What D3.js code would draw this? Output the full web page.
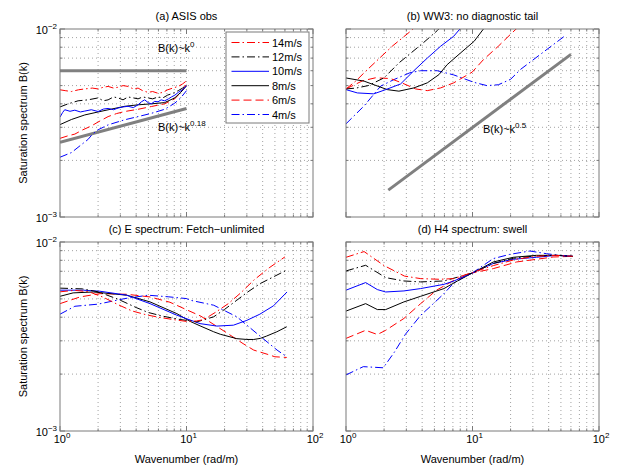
<!DOCTYPE html>
<html><head><meta charset="utf-8">
<script src="https://cdn.jsdelivr.net/npm/d3@7"></script>
<style>body{margin:0;background:#fff} text{font-family:"Liberation Sans",Arial,Helvetica,sans-serif;fill:#000}</style>
</head><body><svg id="c" width="617" height="468"></svg>
<script>
// values of B(k) are given in units of 1e-3
const speeds = ["14m/s","12m/s","10m/s","8m/s","6m/s","4m/s"];
const colors = ["#ff0000","#000000","#0000ff","#000000","#ff0000","#0000ff"];
const dashes = ["8,3,1.5,3","8,3,1.5,3",null,null,"8,4","8,3,1.5,3"];

// (a) ASIS obs
const a14 = [[1,4.75],[1.1,4.7],[1.23,4.65],[1.4,4.75],[1.57,4.8],[1.8,4.85],[2.0,4.8],[2.2,4.9],[2.4,4.95],[2.65,4.85],[2.88,4.9],[3.15,5.0],[3.45,4.95],[3.8,4.8],[4.14,4.85],[4.5,4.7],[4.97,4.6],[5.4,4.65],[5.96,4.55],[6.5,4.6],[7.1,4.75],[7.8,4.85],[8.6,4.95],[9.3,5.1],[10,5.3]];
const a12 = [[1,3.85],[1.16,4.0],[1.39,4.15],[1.67,4.2],[2.0,4.3],[2.2,4.15],[2.4,4.2],[2.65,4.35],[2.88,4.3],[3.15,4.2],[3.45,4.35],[3.8,4.3],[4.14,4.25],[4.5,4.35],[4.97,4.3],[5.4,4.25],[5.96,4.35],[6.5,4.3],[7.1,4.45],[7.8,4.55],[8.6,4.7],[9.3,4.85],[10,5.05]];
const a10 = [[1,3.4],[1.05,3.6],[1.09,3.72],[1.2,3.65],[1.31,3.7],[1.45,3.62],[1.57,3.66],[1.77,3.72],[2.0,3.64],[2.2,3.75],[2.4,3.78],[2.65,3.72],[2.88,3.8],[3.15,3.85],[3.45,3.88],[3.8,3.82],[4.14,3.95],[4.4,4.1],[4.67,4.2],[5.0,4.05],[5.28,4.0],[5.6,4.12],[5.96,4.1],[6.3,4.2],[6.72,4.15],[7.2,4.25],[7.6,4.35],[8.1,4.45],[8.6,4.6],[9.3,4.75],[10,5.0]];
const a8 = [[1,3.1],[1.23,3.3],[1.57,3.49],[2.0,3.62],[2.55,3.75],[3.25,3.88],[4.14,3.95],[5.28,4.0],[6.72,4.06],[8.07,4.3],[9.0,4.6],[10,4.98]];
const a6 = [[1,2.62],[1.15,2.7],[1.31,2.76],[1.5,2.9],[1.77,3.05],[2.0,3.2],[2.4,3.42],[2.8,3.55],[3.25,3.64],[4.14,3.74],[5.28,3.87],[6.72,4.0],[8.07,4.25],[9.0,4.6],[10,5.1]];
const a4 = [[1,2.08],[1.23,2.2],[1.47,2.42],[1.66,2.58],[1.8,2.75],[2.0,2.91],[2.4,3.09],[3.25,3.29],[4.14,3.42],[5.28,3.56],[6.72,3.74],[8.07,4.03],[9.0,4.3],[10,4.7]];
const refA0 = [[1,6.0],[10,6.0]];
const refA18 = [[1,2.5],[10,3.78]];

// (b) WW3: no diagnostic tail
const b14 = [[1,4.8],[1.2,5.3],[1.43,5.96],[2.32,8.1],[3.34,9.9],[3.8,11]];
const b12 = [[1,4.8],[1.2,4.85],[1.5,5.0],[2.0,5.5],[2.62,6.6],[3.3,7.5],[4.13,8.5],[5.26,9.8],[6,10.8]];
const b10 = [[1,4.76],[1.23,4.57],[1.66,4.52],[2.06,4.76],[2.7,5.1],[3.44,6.0],[4.39,7.0],[5.6,8.1],[7.1,9.15],[8.05,10.1],[9,11]];
const b8 = [[1,5.49],[1.39,5.28],[2.12,4.76],[2.62,4.67],[3.44,4.86],[4.39,5.17],[5.43,5.72],[6.3,6.46],[8.05,7.46],[10.3,8.6],[12.2,10.0],[13.5,10.8]];
const b6 = [[1,4.8],[1.35,5.3],[1.71,5.5],[2.25,5.45],[2.78,5.16],[3.55,4.8],[4.39,4.7],[5.6,4.86],[7.1,5.17],[9.95,5.9],[12.2,6.87],[16,8.1],[20.4,9.5],[22.5,10.1],[24,10.8]];
const b4 = [[1,3.13],[1.39,3.9],[1.88,4.97],[2.39,5.38],[3.2,5.85],[3.89,6.0],[5.26,6.0],[7.1,5.7],[10.3,5.2],[13,5.0],[16,5.05],[20,5.4],[24,6.1],[36,7.5],[55,9.3]];
const refB = [[2.16,1.39],[60,7.33]];

// (c) E spectrum: Fetch-unlimited
const c14 = [[1,5.45],[1.3,5.55],[1.7,5.45],[2.2,5.1],[2.9,4.65],[3.7,4.32],[4.8,4.12],[6,4.0],[8,3.88],[10,3.8],[12,3.82],[13.6,3.88],[17,4.25],[21.5,4.73],[27,5.4],[34,6.28],[45,7.3],[60,8.34]];
const c12 = [[1,5.7],[1.5,5.65],[2,5.45],[2.88,4.98],[4,4.5],[4.97,4.24],[6.5,4.05],[8.9,3.89],[12.1,3.78],[16.4,4.02],[20,4.4],[25,4.92],[30,5.4],[38.3,6.03],[50,6.6],[62,7.1]];
const c10 = [[1,5.56],[1.53,5.56],[2.07,5.49],[3.37,5.23],[5.15,4.72],[8.38,4.1],[12.8,3.7],[17.4,3.59],[23.5,3.63],[30,3.85],[38,4.15],[48.8,4.6],[62.3,5.44]];
const c8 = [[1,5.16],[1.27,5.38],[1.84,5.44],[3.37,5.23],[5.15,4.82],[8.38,4.18],[10.7,3.8],[12.8,3.6],[16.4,3.35],[18.5,3.25],[25,3.08],[30,3.05],[34,3.05],[38.3,3.09],[43,3.18],[51.8,3.35],[62,3.56]];
const c6 = [[1,4.72],[1.44,5.12],[2.07,5.33],[3.37,5.29],[5.15,5.12],[7.4,4.8],[8.9,4.54],[13,4.05],[20.9,3.3],[28,2.9],[34,2.68],[43.3,2.55],[50,2.47],[62,2.45]];
const c4 = [[1,4.15],[1.31,4.57],[2.0,4.69],[3.25,5.02],[4.97,5.23],[7.16,5.13],[10,5.02],[10.7,4.92],[16.4,4.63],[25,4.02],[36,3.28],[52,2.68],[62,2.47]];

// (d) H4 spectrum: swell
const d14 = [[1,8.3],[1.39,8.9],[2,7.5],[2.9,6.6],[3.9,6.4],[5.5,6.35],[7.1,6.4],[10,6.9],[14.6,7.5],[22,8.1],[32,8.4],[45,8.5],[62,8.4]];
const d12 = [[1,7.03],[1.43,7.53],[2.06,6.48],[2.87,6.22],[3.89,6.15],[5.95,6.22],[10,6.86],[14.6,7.7],[21,8.2],[32,8.45],[46,8.5],[62,8.4]];
const d10 = [[1,5.56],[1.43,6.1],[1.77,5.6],[2.06,5.44],[2.87,5.51],[3.89,5.67],[5.95,5.97],[7.13,6.22],[10,6.86],[14.6,7.7],[21,8.1],[32,8.3],[46,8.5],[62,8.4]];
const d8 = [[1,4.31],[1.43,4.72],[1.77,4.39],[2.06,4.39],[2.87,4.82],[3.89,5.16],[5.95,5.67],[7.6,6.22],[10,6.86],[14.6,7.84],[21,8.3],[32,8.5],[46,8.5],[62,8.4]];
const d6 = [[1,3.09],[1.43,3.41],[1.77,3.24],[2.06,3.41],[2.87,3.94],[3.89,4.72],[5.2,5.56],[7.13,6.27],[10,6.86],[14.6,7.23],[22.3,7.84],[32,8.1],[43.4,8.33],[62,8.4]];
const d4 = [[1,1.98],[1.37,2.19],[1.97,2.16],[2.4,2.6],[2.95,3.25],[3.9,4.1],[4.61,4.54],[5.9,5.3],[7.04,6.03],[8.5,6.5],[10.1,6.9],[14.6,8.17],[19.7,8.6],[28.4,8.96],[38.5,8.67],[49,8.5],[62,8.4]];

const xMajor = [1,10,100];
const xMajorExp = ["0","1","2"];
const yMajor = [1e-3,1e-2];
const yMajorExp = ["\u22123","\u22122"];
const minorMult = [2,3,4,5,6,7,8,9];

const panels = [
  {x0:60,x1:313,y0:29,y1:217,title:"(a) ASIS obs",series:[a14,a12,a10,a8,a6,a4],refs:[refA0,refA18],
   notes:[[5.95,7.5,"0"],[5.95,2.87,"0.18"]],ylab:true,xlab:false,legend:true},
  {x0:346,x1:599,y0:29,y1:217,title:"(b) WW3: no diagnostic tail",series:[b14,b12,b10,b8,b6,b4],refs:[refB],
   notes:[[12.1,2.8,"0.5"]],ylab:false,xlab:false},
  {x0:60,x1:313,y0:242,y1:431,title:"(c) E spectrum: Fetch\u2212unlimited",series:[c14,c12,c10,c8,c6,c4],refs:[],
   notes:[],ylab:true,xlab:true},
  {x0:346,x1:599,y0:242,y1:431,title:"(d) H4 spectrum: swell",series:[d14,d12,d10,d8,d6,d4],refs:[],
   notes:[],ylab:false,xlab:true}
];

const svg = d3.select("#c");
const frameCol = "#7a7a7a";

panels.forEach((p,pi)=>{
  const x = d3.scaleLog().domain([1,100]).range([p.x0,p.x1]);
  const y = d3.scaleLog().domain([1e-3,1e-2]).range([p.y1,p.y0]);
  const g = svg.append("g");
  const cid = "clip"+pi;
  svg.append("clipPath").attr("id",cid).append("rect")
    .attr("x",p.x0).attr("y",p.y0).attr("width",p.x1-p.x0).attr("height",p.y1-p.y0);

  // grid
  const xg = [];
  [1,10].forEach(dec=>minorMult.forEach(m=>xg.push(dec*m)));
  xg.push(10);
  const yg = minorMult.map(m=>m*1e-3);
  g.selectAll(".gx").data(xg).enter().append("line")
    .attr("x1",d=>x(d)).attr("x2",d=>x(d)).attr("y1",p.y0).attr("y2",p.y1)
    .attr("stroke","#8a8a8a").attr("stroke-width",0.8).attr("stroke-dasharray","1,3");
  g.selectAll(".gy").data(yg).enter().append("line")
    .attr("y1",d=>y(d)).attr("y2",d=>y(d)).attr("x1",p.x0).attr("x2",p.x1)
    .attr("stroke","#8a8a8a").attr("stroke-width",0.8).attr("stroke-dasharray","1,3");

  // ticks (inward, all sides)
  const xt = [];
  [1,10].forEach(dec=>[1,...minorMult].forEach(m=>xt.push({v:dec*m,maj:m===1})));
  xt.push({v:100,maj:true});
  const yt = [{v:1e-3,maj:true},...yg.map(v=>({v,maj:false})),{v:1e-2,maj:true}];
  xt.forEach(t=>{
    const L = t.maj?5:2.5;
    g.append("line").attr("x1",x(t.v)).attr("x2",x(t.v)).attr("y1",p.y1).attr("y2",p.y1-L).attr("stroke",frameCol);
    g.append("line").attr("x1",x(t.v)).attr("x2",x(t.v)).attr("y1",p.y0).attr("y2",p.y0+L).attr("stroke",frameCol);
  });
  yt.forEach(t=>{
    const L = t.maj?5:2.5;
    g.append("line").attr("y1",y(t.v)).attr("y2",y(t.v)).attr("x1",p.x0).attr("x2",p.x0+L).attr("stroke",frameCol);
    g.append("line").attr("y1",y(t.v)).attr("y2",y(t.v)).attr("x1",p.x1).attr("x2",p.x1-L).attr("stroke",frameCol);
  });

  const line = d3.line().x(d=>x(d[0])).y(d=>y(d[1]*1e-3));
  const dg = g.append("g").attr("clip-path",`url(#${cid})`);
  p.refs.forEach(r=>{
    dg.append("path").attr("d",line(r)).attr("fill","none").attr("stroke","#808080").attr("stroke-width",3);
  });
  // draw series in reverse so 14m/s on top
  p.series.map((s,i)=>({s,i})).reverse().forEach(({s,i})=>{
    dg.append("path").attr("d",line(s)).attr("fill","none")
      .attr("stroke",colors[i]).attr("stroke-width",1)
      .attr("stroke-dasharray",dashes[i]);
  });

  // frame
  g.append("rect").attr("x",p.x0).attr("y",p.y0).attr("width",p.x1-p.x0).attr("height",p.y1-p.y0)
    .attr("fill","none").attr("stroke",frameCol).attr("stroke-width",1);

  // notes
  p.notes.forEach(n=>{
    const t = g.append("text").attr("x",x(n[0])).attr("y",y(n[1]*1e-3)).attr("font-size",11);
    t.append("tspan").text("B(k)~k");
    t.append("tspan").attr("dy",-5).attr("font-size",8).text(n[2]);
  });

  // title
  g.append("text").attr("x",(p.x0+p.x1)/2).attr("y",p.y0-9).attr("text-anchor","middle")
    .attr("font-size",11).text(p.title);

  if(p.ylab){
    yMajor.forEach((v,i)=>{
      const t = g.append("text").attr("x",p.x0-3).attr("y",y(v)+4.5).attr("text-anchor","end").attr("font-size",11);
      t.append("tspan").text("10");
      t.append("tspan").attr("dy",-5).attr("font-size",8).text(yMajorExp[i]);
    });
    g.append("text").attr("transform",`translate(${p.x0-33},${(p.y0+p.y1)/2}) rotate(-90)`)
      .attr("text-anchor","middle").attr("font-size",11).text("Saturation spectrum B(k)");
  }
  if(p.xlab){
    xMajor.forEach((v,i)=>{
      const t = g.append("text").attr("x",x(v)+2).attr("y",p.y1+12).attr("text-anchor","middle").attr("font-size",11);
      t.append("tspan").text("10");
      t.append("tspan").attr("dy",-5).attr("font-size",8).text(xMajorExp[i]);
    });
    g.append("text").attr("x",(p.x0+p.x1)/2).attr("y",p.y1+32).attr("text-anchor","middle")
      .attr("font-size",11).text("Wavenumber (rad/m)");
  }

  if(p.legend){
    const lx = 226, ly = 32, lw = 83, lh = 91;
    const lg = svg.append("g");
    lg.append("rect").attr("x",lx).attr("y",ly).attr("width",lw).attr("height",lh)
      .attr("fill","#fff").attr("stroke",frameCol).attr("stroke-width",1);
    speeds.forEach((s,i)=>{
      const yy = ly + 10.5 + i*14.4;
      lg.append("line").attr("x1",lx+5.5).attr("x2",lx+43).attr("y1",yy).attr("y2",yy)
        .attr("stroke",colors[i]).attr("stroke-width",1).attr("stroke-dasharray",dashes[i]);
      lg.append("text").attr("x",lx+46).attr("y",yy+4).attr("font-size",11).text(s);
    });
  }
});
</script></body></html>
